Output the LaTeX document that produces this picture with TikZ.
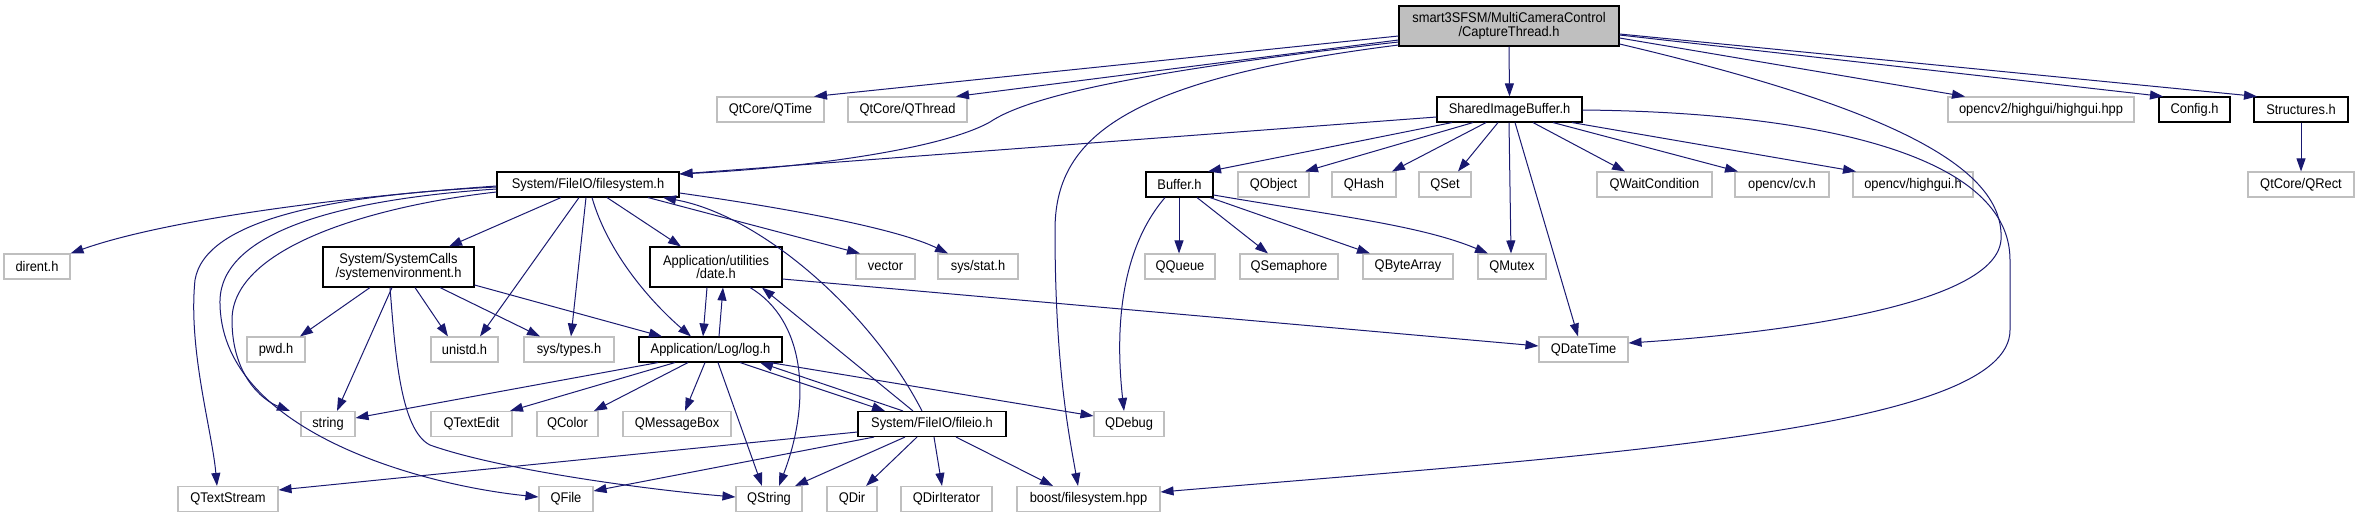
\documentclass[tikz,border=0pt]{standalone}
\usepackage{fontspec}
\setmainfont{Liberation Sans}[FakeStretch=0.92]
\usetikzlibrary{arrows.meta}
\definecolor{edgec}{HTML}{191970}
\definecolor{gborder}{HTML}{BFBFBF}
\definecolor{topfill}{HTML}{BFBFBF}
\newcommand{\nodefont}{\fontsize{14pt}{13.5pt}\selectfont}
\tikzset{
  box/.style={draw=gborder, fill=white, line width=1.1pt, minimum height=25pt, inner sep=0pt, font=\nodefont, text=black, align=center},
  doc/.style={box, draw=black},
  topnode/.style={doc, fill=topfill, minimum height=40pt},
  twoline/.style={minimum height=40pt},
  dep/.style={draw=edgec, line width=1pt, -{Triangle[length=13pt,width=9pt]}, fill=none},
}
\begin{document}
\begin{tikzpicture}[x=1pt,y=-1pt]
\useasboundingbox (0,0) rectangle (2360,517);
% row 1
\node[topnode, minimum width=220] (CT) at (1509,26) {smart3SFSM/MultiCameraControl\\/CaptureThread.h};
% row 2
\node[box, minimum width=107] (QTime) at (770.5,109.5) {QtCore/QTime};
\node[box, minimum width=119] (QThread) at (907.5,109.5) {QtCore/QThread};
\node[doc, minimum width=145] (SIB) at (1509.5,109.5) {SharedImageBuffer.h};
\node[box, minimum width=186] (ocv2) at (2041,109.5) {opencv2/highgui/highgui.hpp};
\node[doc, minimum width=71] (Config) at (2194.5,109.5) {Config.h};
\node[doc, minimum width=94] (Struct) at (2301,109.5) {Structures.h};
% row 3
\node[doc, minimum width=182] (FS) at (588,184.5) {System/FileIO/filesystem.h};
\node[doc, minimum width=67] (Buffer) at (1179.5,184.5) {Buffer.h};
\node[box, minimum width=71] (QObject) at (1273.5,184.5) {QObject};
\node[box, minimum width=64] (QHash) at (1364,184.5) {QHash};
\node[box, minimum width=52] (QSet) at (1445,184.5) {QSet};
\node[box, minimum width=115] (QWait) at (1654.5,184.5) {QWaitCondition};
\node[box, minimum width=94] (cv) at (1782,184.5) {opencv/cv.h};
\node[box, minimum width=120] (highgui) at (1913,184.5) {opencv/highgui.h};
\node[box, minimum width=106] (QRect) at (2301,184.5) {QtCore/QRect};
% row 4
\node[box, minimum width=66] (dirent) at (37,266.5) {dirent.h};
\node[doc, twoline, minimum width=151] (SE) at (398.5,267) {System/SystemCalls\\/systemenvironment.h};
\node[doc, twoline, minimum width=132] (DT) at (716,267) {Application/utilities\\/date.h};
\node[box, minimum width=59] (vector) at (885.5,266.5) {vector};
\node[box, minimum width=80] (sysstat) at (978,266.5) {sys/stat.h};
\node[box, minimum width=70] (QQueue) at (1180,266.5) {QQueue};
\node[box, minimum width=98] (QSemaphore) at (1289,266.5) {QSemaphore};
\node[box, minimum width=90] (QByteArray) at (1408,266.5) {QByteArray};
\node[box, minimum width=68] (QMutex) at (1512,266.5) {QMutex};
% row 5
\node[box, minimum width=58] (pwd) at (276,349.5) {pwd.h};
\node[box, minimum width=67] (unistd) at (464.5,349.5) {unistd.h};
\node[box, minimum width=90] (systypes) at (569,349.5) {sys/types.h};
\node[doc, minimum width=143] (LG) at (710.5,349.5) {Application/Log/log.h};
\node[box, minimum width=89] (QDateTime) at (1583.5,349.5) {QDateTime};
% row 6
\node[box, minimum width=54] (string) at (328,424) {string};
\node[box, minimum width=81] (QTextEdit) at (471.5,424) {QTextEdit};
\node[box, minimum width=61] (QColor) at (567.5,424) {QColor};
\node[box, minimum width=108] (QMessageBox) at (677,424) {QMessageBox};
\node[doc, minimum width=148] (FIO) at (932,424) {System/FileIO/fileio.h};
\node[box, minimum width=70] (QDebug) at (1129,424) {QDebug};
% row 7
\node[box, minimum width=100] (QTextStream) at (228,499) {QTextStream};
\node[box, minimum width=54] (QFile) at (566,499) {QFile};
\node[box, minimum width=66] (QString) at (769,499) {QString};
\node[box, minimum width=50] (QDir) at (852,499) {QDir};
\node[box, minimum width=91] (QDirIterator) at (946.5,499) {QDirIterator};
\node[box, minimum width=143] (boost) at (1088.5,499) {boost/filesystem.hpp};

% ---- edges from CaptureThread.h
\draw[dep] (CT.west |- 0,36) -- (QTime.north -| 814,0);
\draw[dep] (CT.west |- 0,40) -- (QThread.north -| 956,0);
\draw[dep] (CT.west |- 0,42) .. controls (1150,70) and (1030,95) .. (990,122) .. controls (940,150) and (800,168) .. (FS.east |- 0,174);
\draw[dep] (CT.west |- 0,45) .. controls (1120,80) and (1055,140) .. (1055,230) .. controls (1055,370) and (1070,440) .. (boost.north -| 1078,0);
\draw[dep] (CT.south) -- (SIB.north);
\draw[dep] (CT.east |- 0,38) -- (ocv2.north -| 1965,0);
\draw[dep] (CT.east |- 0,35) -- (Config.north -| 2163,0);
\draw[dep] (CT.east |- 0,34) -- (Struct.north -| 2257,0);
\draw[dep] (CT.east |- 0,44) .. controls (1900,110) and (2005,170) .. (2001,240) .. controls (1995,310) and (1750,335) .. (QDateTime.east |- 0,343);

% ---- edges from SharedImageBuffer.h
\draw[dep] (SIB.west |- 0,117) -- (FS.east |- 0,174);
\draw[dep] (SIB.south -| 1452,0) -- (Buffer.north -| 1208,0);
\draw[dep] (SIB.south -| 1473,0) -- (QObject.north -| 1305,0);
\draw[dep] (SIB.south -| 1486,0) -- (QHash.north -| 1392,0);
\draw[dep] (SIB.south -| 1498,0) -- (QSet.north -| 1458,0);
\draw[dep] (SIB.south -| 1509,0) -- (QMutex.north -| 1511,0);
\draw[dep] (SIB.south -| 1515,0) -- (QDateTime.north -| 1578,0);
\draw[dep] (SIB.south -| 1533,0) -- (QWait.north -| 1625,0);
\draw[dep] (SIB.south -| 1553,0) -- (cv.north -| 1738,0);
\draw[dep] (SIB.south -| 1572,0) -- (highgui.north -| 1856,0);
\draw[dep] (SIB.east |- 0,110) .. controls (1800,112) and (2010,150) .. (2010,260) -- (2010,330) .. controls (2010,430) and (1600,455) .. (boost.east |- 0,492);

\draw[dep] (Struct.south) -- (QRect.north);

% ---- edges from Buffer.h
\draw[dep] (Buffer.south -| 1179,0) -- (QQueue.north -| 1179,0);
\draw[dep] (Buffer.south -| 1197,0) -- (QSemaphore.north -| 1268,0);
\draw[dep] (Buffer.south -| 1210,0) -- (QByteArray.north -| 1370,0);
\draw[dep] (Buffer.east |- 0,195) .. controls (1330,215) and (1420,225) .. (QMutex.north -| 1488,0);
\draw[dep] (Buffer.south -| 1165,0) .. controls (1120,250) and (1115,330) .. (QDebug.north -| 1124,0);

% ---- edges from filesystem.h
\draw[dep] (FS.west |- 0,186) .. controls (300,200) and (150,225) .. (dirent.north east);
\draw[dep] (FS.west |- 0,187) .. controls (330,195) and (205,220) .. (195,280) .. controls (188,350) and (212,430) .. (QTextStream.north -| 217,0);
\draw[dep] (FS.west |- 0,189) .. controls (330,200) and (222,235) .. (220,300) .. controls (218,430) and (420,485) .. (QFile.west |- 0,497);
\draw[dep] (FS.west |- 0,192) .. controls (380,205) and (232,245) .. (232,320) .. controls (232,375) and (262,400) .. (string.north -| 290,0);
\draw[dep] (FS.south -| 561,0) -- (SE.north -| 449,0);
\draw[dep] (FS.south -| 579,0) -- (unistd.north -| 480,0);
\draw[dep] (FS.south -| 586,0) -- (systypes.north -| 571,0);
\draw[dep] (FS.south -| 592,0) .. controls (610,260) and (660,310) .. (LG.north -| 691,0);
\draw[dep] (FS.south -| 607,0) -- (DT.north -| 681,0);
\draw[dep] (FS.south -| 648,0) -- (vector.north -| 860,0);
\draw[dep] (FS.east |- 0,193) .. controls (800,210) and (900,230) .. (sysstat.north -| 948,0);

% ---- edges from systemenvironment.h
\draw[dep] (SE.south -| 370,0) -- (pwd.north -| 300,0);
\draw[dep] (SE.south -| 392,0) -- (string.north -| 337,0);
\draw[dep] (SE.south -| 415,0) -- (unistd.north -| 448,0);
\draw[dep] (SE.south -| 440,0) -- (systypes.north -| 540,0);
\draw[dep] (SE.east |- 0,285) -- (LG.north -| 662,0);
\draw[dep] (SE.south -| 390,0) .. controls (395,350) and (400,430) .. (430,445) .. controls (500,470) and (650,490) .. (QString.west |- 0,497);

% ---- edges from date.h
\draw[dep] (DT.south -| 707,0) -- (LG.north -| 703,0);
\draw[dep] (DT.east |- 0,279) -- (QDateTime.west |- 0,346);
\draw[dep] (DT.south -| 750,0) .. controls (805,320) and (812,400) .. (QString.north -| 779,0);

% ---- edges from log.h
\draw[dep] (LG.north -| 719,0) -- (DT.south -| 723,0);
\draw[dep] (LG.south -| 658,0) -- (string.east |- 0,418);
\draw[dep] (LG.south -| 675,0) -- (QTextEdit.north -| 510,0);
\draw[dep] (LG.south -| 688,0) -- (QColor.north -| 594,0);
\draw[dep] (LG.south -| 705,0) -- (QMessageBox.north -| 685,0);
\draw[dep] (LG.south -| 718,0) -- (QString.north -| 762,0);
\draw[dep] (LG.south -| 740,0) -- (FIO.north -| 885,0);
\draw[dep] (LG.south -| 770,0) -- (QDebug.west |- 0,416);

% ---- edges from fileio.h
\draw[dep] (FIO.north -| 903,0) -- (LG.south -| 760,0);
\draw[dep] (FIO.north -| 922,0) .. controls (870,310) and (760,215) .. (FS.south -| 663,0);
\draw[dep] (FIO.north -| 913,0) -- (DT.south -| 762,0);
\draw[dep] (FIO.west |- 0,432) -- (QTextStream.east |- 0,490);
\draw[dep] (FIO.south -| 874,0) -- (QFile.east |- 0,491);
\draw[dep] (FIO.south -| 905,0) -- (QString.north -| 795,0);
\draw[dep] (FIO.south -| 917,0) -- (QDir.north -| 866,0);
\draw[dep] (FIO.south -| 934,0) -- (QDirIterator.north -| 942,0);
\draw[dep] (FIO.south -| 956,0) -- (boost.north -| 1053,0);
\end{tikzpicture}
\end{document}
